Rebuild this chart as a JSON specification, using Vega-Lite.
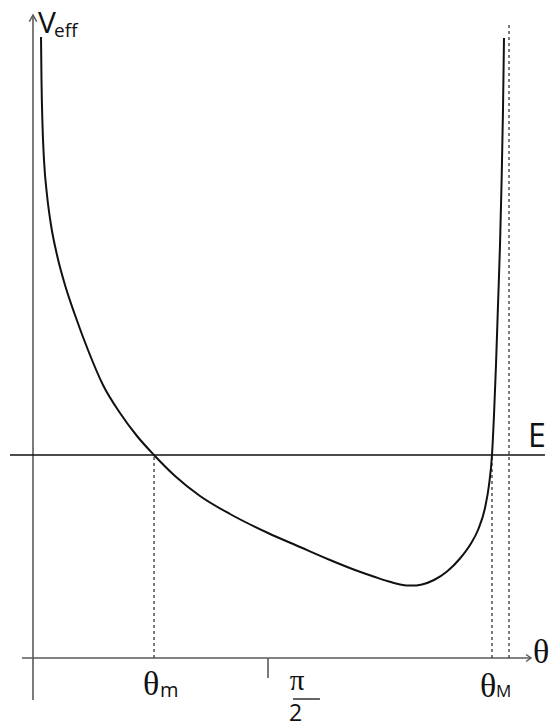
{
  "$schema": "https://vega.github.io/schema/vega-lite/v6.json",
  "width": 550,
  "height": 728,
  "padding": 0,
  "autosize": "none",
  "background": "white",
  "config": {"view": {"stroke": null}},
  "encoding": {
    "x": {"field": "theta", "type": "quantitative", "scale": {"domain": [-0.2206, 3.4559], "nice": false, "zero": false}, "axis": null},
    "y": {"field": "V", "type": "quantitative", "scale": {"domain": [-0.70, 6.58], "nice": false, "zero": false}, "axis": null}
  },
  "layer": [
    {
      "data": {"values": [
        {"theta": 0, "V": -0.42, "V2": 6.43},
        {"theta": 1.571, "V": 0, "V2": -0.20}
      ]},
      "mark": {"type": "rule", "color": "#5a5a5a", "strokeWidth": 1.6},
      "encoding": {"y2": {"field": "V2"}}
    },
    {
      "data": {"values": [
        {"theta": -0.0735, "theta2": 3.329, "V": 0}
      ]},
      "mark": {"type": "rule", "color": "#5a5a5a", "strokeWidth": 1.6},
      "encoding": {"x2": {"field": "theta2"}}
    },
    {
      "data": {"values": [
        {"theta": -0.154, "theta2": 3.422, "V": 2.03}
      ]},
      "mark": {"type": "rule", "color": "#111111", "strokeWidth": 1.3},
      "encoding": {"x2": {"field": "theta2"}}
    },
    {
      "data": {"values": [
        {"theta": 1.738, "theta2": 1.918, "V": -0.41}
      ]},
      "mark": {"type": "rule", "color": "#222222", "strokeWidth": 1.4},
      "encoding": {"x2": {"field": "theta2"}}
    },
    {
      "data": {"values": [
        {"theta": 0.809, "V": 0, "V2": 2.03},
        {"theta": 3.068, "V": 0, "V2": 2.03},
        {"theta": 3.182, "V": 0, "V2": 6.33}
      ]},
      "mark": {"type": "rule", "color": "#444444", "strokeWidth": 1.4, "strokeDash": [3, 3]},
      "encoding": {"y2": {"field": "V2"}}
    },
    {
      "data": {"values": [
        {"theta": 3.329, "V": 0}
      ]},
      "mark": {"type": "point", "shape": "M-1,-0.7L0,0L-1,0.7", "size": 100, "filled": false, "stroke": "#5a5a5a", "strokeWidth": 1.5, "opacity": 1}
    },
    {
      "data": {"values": [
        {"theta": 0, "V": 6.43}
      ]},
      "mark": {"type": "point", "shape": "M-0.55,1L0,0L0.55,1", "size": 180, "filled": false, "stroke": "#5a5a5a", "strokeWidth": 1.5, "opacity": 1}
    },
    {
      "data": {"values": [
        {"theta": 0.0535, "V": 6.21},
        {"theta": 0.0568, "V": 5.78},
        {"theta": 0.0635, "V": 5.33},
        {"theta": 0.0735, "V": 4.98},
        {"theta": 0.0936, "V": 4.63},
        {"theta": 0.1203, "V": 4.33},
        {"theta": 0.1604, "V": 4.03},
        {"theta": 0.2139, "V": 3.73},
        {"theta": 0.2807, "V": 3.43},
        {"theta": 0.3676, "V": 3.08},
        {"theta": 0.4679, "V": 2.73},
        {"theta": 0.5816, "V": 2.45},
        {"theta": 0.6952, "V": 2.22},
        {"theta": 0.8088, "V": 2.03},
        {"theta": 0.9492, "V": 1.82},
        {"theta": 1.1163, "V": 1.62},
        {"theta": 1.3168, "V": 1.44},
        {"theta": 1.5709, "V": 1.25},
        {"theta": 1.7848, "V": 1.11},
        {"theta": 1.9853, "V": 0.98},
        {"theta": 2.1524, "V": 0.88},
        {"theta": 2.2861, "V": 0.81},
        {"theta": 2.373, "V": 0.768},
        {"theta": 2.4532, "V": 0.736},
        {"theta": 2.5267, "V": 0.724},
        {"theta": 2.6003, "V": 0.736},
        {"theta": 2.6805, "V": 0.78},
        {"theta": 2.7674, "V": 0.865},
        {"theta": 2.8543, "V": 0.995},
        {"theta": 2.9211, "V": 1.13},
        {"theta": 2.9746, "V": 1.28},
        {"theta": 3.0214, "V": 1.50},
        {"theta": 3.0481, "V": 1.73},
        {"theta": 3.0682, "V": 2.03},
        {"theta": 3.0816, "V": 2.43},
        {"theta": 3.0949, "V": 2.93},
        {"theta": 3.1083, "V": 3.53},
        {"theta": 3.1217, "V": 4.13},
        {"theta": 3.1317, "V": 4.73},
        {"theta": 3.1417, "V": 5.48},
        {"theta": 3.1484, "V": 6.20}
      ]},
      "mark": {"type": "line", "color": "#111111", "strokeWidth": 2, "interpolate": "monotone"},
      "encoding": {"order": {"field": "theta", "type": "quantitative"}}
    },
    {
      "data": {"values": [
        {"label": "V", "theta": 0.0334, "V": 6.25}
      ]},
      "mark": {"type": "text", "font": "Open Sans", "fontSize": 30, "align": "left", "baseline": "alphabetic", "color": "#111111"},
      "encoding": {"text": {"field": "label"}}
    },
    {
      "data": {"values": [
        {"label": "E", "theta": 3.309, "V": 2.11}
      ]},
      "mark": {"type": "text", "font": "Open Sans", "fontSize": 32, "align": "left", "baseline": "alphabetic", "color": "#111111"},
      "encoding": {"text": {"field": "label"}}
    },
    {
      "data": {"values": [
        {"label": "eff", "theta": 0.1404, "V": 6.21}
      ]},
      "mark": {"type": "text", "font": "Open Sans", "fontSize": 19, "align": "left", "baseline": "alphabetic", "color": "#111111"},
      "encoding": {"text": {"field": "label"}}
    },
    {
      "data": {"values": [
        {"label": "θ", "theta": 3.342, "V": -0.05},
        {"label": "θ", "theta": 0.735, "V": -0.37},
        {"label": "θ", "theta": 2.988, "V": -0.39}
      ]},
      "mark": {"type": "text", "font": "Liberation Serif", "fontSize": 34, "align": "left", "baseline": "alphabetic", "color": "#111111"},
      "encoding": {"text": {"field": "label"}}
    },
    {
      "data": {"values": [
        {"label": "m", "theta": 0.849, "V": -0.39}
      ]},
      "mark": {"type": "text", "font": "Open Sans", "fontSize": 20, "align": "left", "baseline": "alphabetic", "color": "#111111"},
      "encoding": {"text": {"field": "label"}}
    },
    {
      "data": {"values": [
        {"label": "M", "theta": 3.095, "V": -0.39}
      ]},
      "mark": {"type": "text", "font": "Open Sans", "fontSize": 17, "align": "left", "baseline": "alphabetic", "color": "#111111"},
      "encoding": {"text": {"field": "label"}}
    },
    {
      "data": {"values": [
        {"label": "π", "theta": 1.765, "V": -0.32}
      ]},
      "mark": {"type": "text", "font": "Liberation Serif", "fontSize": 29, "align": "center", "baseline": "alphabetic", "color": "#111111"},
      "encoding": {"text": {"field": "label"}}
    },
    {
      "data": {"values": [
        {"label": "2", "theta": 1.755, "V": -0.63}
      ]},
      "mark": {"type": "text", "font": "Open Sans", "fontSize": 23, "align": "center", "baseline": "alphabetic", "color": "#111111"},
      "encoding": {"text": {"field": "label"}}
    }
  ]
}
